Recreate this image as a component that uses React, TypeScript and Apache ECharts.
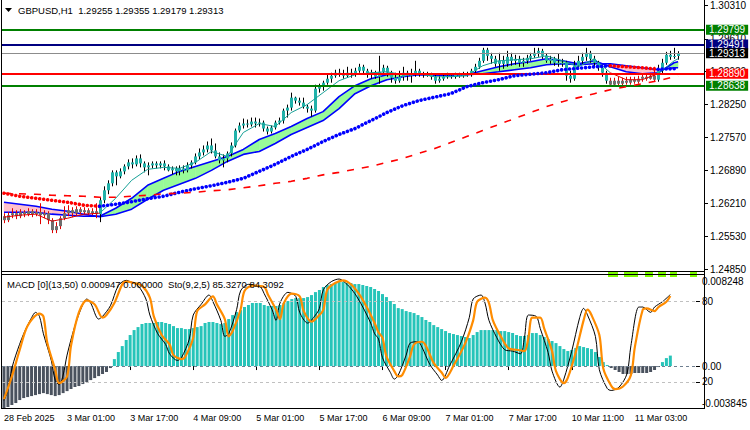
import React, { useEffect, useRef } from "react";
import * as echarts from "echarts";

// ---------------- data ----------------
const SYMBOL = "GBPUSD,H1";
const CATEGORY_COUNT = 176; // 170 bars + empty right shift
const X_TICK_STEP = 16;
const xTickLabels = ["28 Feb 2025", "3 Mar 01:00", "3 Mar 17:00", "4 Mar 09:00", "5 Mar 01:00", "5 Mar 17:00", "6 Mar 09:00", "7 Mar 01:00", "7 Mar 17:00", "10 Mar 11:00", "11 Mar 03:00"];

const open = [
  1.25942,1.25860,1.25963,1.26004,1.25942,1.26025,1.25984,1.26045,1.25984,1.26025,
  1.25963,1.26004,1.25860,1.25654,1.25736,1.25901,1.26004,1.26066,1.26004,1.26087,
  1.26025,1.26066,1.26004,1.26045,1.25984,1.26272,1.26478,1.26622,1.26849,1.26766,
  1.26869,1.26972,1.27055,1.27014,1.27137,1.27034,1.26952,1.26993,1.27034,1.26993,
  1.27034,1.26972,1.26890,1.26931,1.26869,1.26931,1.26890,1.26993,1.27055,1.27178,
  1.27261,1.27323,1.27405,1.27302,1.27178,1.27096,1.27137,1.27240,1.27405,1.27714,
  1.27817,1.27858,1.27838,1.27899,1.27858,1.27879,1.27755,1.27693,1.27776,1.27879,
  1.27920,1.28126,1.28188,1.28394,1.28332,1.28291,1.28208,1.28167,1.28126,1.28579,
  1.28620,1.28703,1.28785,1.28847,1.28909,1.28888,1.28847,1.28909,1.28868,1.28950,
  1.29032,1.28950,1.28868,1.28909,1.28826,1.28929,1.29012,1.28909,1.28806,1.28744,
  1.28826,1.28909,1.28847,1.28888,1.28950,1.28888,1.28868,1.28888,1.28826,1.28744,
  1.28785,1.28826,1.28847,1.28826,1.28868,1.28847,1.28888,1.28868,1.28950,1.29032,
  1.29156,1.29383,1.29259,1.29197,1.29094,1.29156,1.29094,1.29238,1.29156,1.29197,
  1.29115,1.29156,1.29218,1.29259,1.29321,1.29362,1.29259,1.29156,1.29197,1.29115,
  1.29094,1.29115,1.28847,1.28785,1.29053,1.29156,1.29238,1.29321,1.29197,1.29115,
  1.29012,1.28909,1.28744,1.28662,1.28744,1.28682,1.28744,1.28703,1.28765,1.28723,
  1.28785,1.28826,1.28785,1.28847,1.28765,1.28950,1.29115,1.29280,1.29238,1.29255,
];
const close = [
  1.25860,1.25963,1.26004,1.25942,1.26025,1.25984,1.26045,1.25984,1.26025,1.25963,
  1.26004,1.25860,1.25654,1.25736,1.25901,1.26004,1.26066,1.26004,1.26087,1.26025,
  1.26066,1.26004,1.26045,1.25984,1.26272,1.26478,1.26622,1.26849,1.26766,1.26869,
  1.26972,1.27055,1.27014,1.27137,1.27034,1.26952,1.26993,1.27034,1.26993,1.27034,
  1.26972,1.26890,1.26931,1.26869,1.26931,1.26890,1.26993,1.27055,1.27178,1.27261,
  1.27323,1.27405,1.27302,1.27178,1.27096,1.27137,1.27240,1.27405,1.27714,1.27817,
  1.27858,1.27838,1.27899,1.27858,1.27879,1.27755,1.27693,1.27776,1.27879,1.27920,
  1.28126,1.28188,1.28394,1.28332,1.28291,1.28208,1.28167,1.28126,1.28579,1.28620,
  1.28703,1.28785,1.28847,1.28909,1.28888,1.28847,1.28909,1.28868,1.28950,1.29032,
  1.28950,1.28868,1.28909,1.28826,1.28929,1.29012,1.28909,1.28806,1.28744,1.28826,
  1.28909,1.28847,1.28888,1.28950,1.28888,1.28868,1.28888,1.28826,1.28744,1.28785,
  1.28826,1.28847,1.28826,1.28868,1.28847,1.28888,1.28868,1.28950,1.29032,1.29156,
  1.29383,1.29259,1.29197,1.29094,1.29156,1.29094,1.29238,1.29156,1.29197,1.29115,
  1.29156,1.29218,1.29259,1.29321,1.29362,1.29259,1.29156,1.29197,1.29115,1.29094,
  1.29115,1.28847,1.28785,1.29053,1.29156,1.29238,1.29321,1.29197,1.29115,1.29012,
  1.28909,1.28744,1.28662,1.28744,1.28682,1.28744,1.28703,1.28765,1.28723,1.28785,
  1.28826,1.28785,1.28847,1.28765,1.28950,1.29115,1.29280,1.29238,1.29255,1.29313,
];
const high = [
  1.26004,1.26025,1.26107,1.26066,1.26087,1.26066,1.26107,1.26087,1.26087,1.26210,
  1.26066,1.26045,1.25901,1.25819,1.25942,1.26148,1.26169,1.26128,1.26148,1.26128,
  1.26128,1.26107,1.26107,1.26210,1.26334,1.26560,1.26684,1.26890,1.26890,1.26931,
  1.27014,1.27117,1.27137,1.27199,1.27220,1.27075,1.27055,1.27075,1.27075,1.27075,
  1.27096,1.27014,1.26972,1.26972,1.26993,1.26993,1.27055,1.27096,1.27240,1.27343,
  1.27405,1.27487,1.27549,1.27446,1.27261,1.27220,1.27281,1.27467,1.27755,1.27879,
  1.27961,1.27941,1.27982,1.27982,1.27961,1.27920,1.27796,1.27817,1.27920,1.27982,
  1.28167,1.28250,1.28497,1.28414,1.28394,1.28394,1.28250,1.28229,1.28662,1.28682,
  1.28744,1.28888,1.28909,1.28971,1.28991,1.28971,1.29032,1.28991,1.29012,1.29094,
  1.29074,1.28991,1.28971,1.28950,1.29259,1.29074,1.29053,1.28950,1.28909,1.28950,
  1.29032,1.28950,1.28991,1.29156,1.28991,1.28929,1.28929,1.28909,1.28868,1.28847,
  1.28868,1.28909,1.28888,1.28909,1.28909,1.28929,1.28929,1.28991,1.29094,1.29218,
  1.29424,1.29424,1.29321,1.29259,1.29321,1.29259,1.29362,1.29321,1.29280,1.29259,
  1.29218,1.29280,1.29321,1.29424,1.29424,1.29403,1.29300,1.29259,1.29238,1.29300,
  1.29197,1.29156,1.28950,1.29156,1.29259,1.29321,1.29424,1.29362,1.29259,1.29156,
  1.29074,1.28950,1.28806,1.28806,1.28826,1.28806,1.28826,1.28826,1.28826,1.28847,
  1.28888,1.28888,1.28909,1.29032,1.29074,1.29197,1.29341,1.29362,1.29424,1.29355,
];
const low = [
  1.25798,1.25819,1.25901,1.25881,1.25901,1.25922,1.25942,1.25922,1.25942,1.25778,
  1.25901,1.25778,1.25592,1.25592,1.25675,1.25860,1.25942,1.25922,1.25963,1.25984,
  1.25984,1.25963,1.25963,1.25901,1.25819,1.26210,1.26396,1.26560,1.26581,1.26725,
  1.26808,1.26911,1.26931,1.26972,1.26952,1.26849,1.26787,1.26931,1.26931,1.26931,
  1.26890,1.26869,1.26808,1.26787,1.26787,1.26828,1.26849,1.26931,1.27014,1.27117,
  1.27199,1.27261,1.27240,1.27137,1.27034,1.26952,1.27055,1.27178,1.27364,1.27673,
  1.27755,1.27776,1.27796,1.27776,1.27796,1.27693,1.27632,1.27652,1.27735,1.27838,
  1.27858,1.27982,1.28126,1.28270,1.28229,1.28167,1.28085,1.28002,1.28085,1.28497,
  1.28538,1.28662,1.28703,1.28806,1.28826,1.28785,1.28806,1.28806,1.28826,1.28909,
  1.28888,1.28806,1.28785,1.28785,1.28682,1.28888,1.28826,1.28703,1.28682,1.28703,
  1.28744,1.28744,1.28703,1.28826,1.28826,1.28806,1.28826,1.28765,1.28682,1.28703,
  1.28744,1.28785,1.28785,1.28785,1.28806,1.28806,1.28826,1.28826,1.28909,1.28991,
  1.29115,1.29156,1.29094,1.29032,1.28950,1.28991,1.29032,1.29053,1.29074,1.29032,
  1.29032,1.29094,1.29156,1.29218,1.29238,1.29197,1.29115,1.29094,1.29053,1.29032,
  1.29032,1.28744,1.28703,1.28744,1.29012,1.29094,1.29156,1.29115,1.29032,1.28950,
  1.28826,1.28682,1.28620,1.28620,1.28620,1.28641,1.28662,1.28662,1.28682,1.28682,
  1.28723,1.28744,1.28765,1.28723,1.28723,1.28888,1.29074,1.29177,1.29197,1.29179,
];

// indicator readings (taken at these bar indices)
const sampleIdx = [0,4,8,12,16,20,24,28,32,36,40,44,48,52,56,60,64,68,72,76,80,84,88,92,96,100,104,108,112,116,120,124,128,132,136,140,144,148,152,156,160,164,168,169];
const fastLine = [1.25922,1.25963,1.25984,1.25839,1.25901,1.25984,1.26004,1.26313,1.26684,1.26911,1.26952,1.26931,1.27055,1.27281,1.27178,1.27673,1.27858,1.27796,1.28085,1.28250,1.28497,1.28744,1.28868,1.28909,1.28929,1.28868,1.28888,1.28826,1.28826,1.28847,1.29053,1.29156,1.29177,1.29197,1.29259,1.29156,1.29032,1.29197,1.28909,1.28765,1.28765,1.28888,1.29156,1.29197];
const bandFast = [1.26025,1.26025,1.26025,1.25984,1.25963,1.25942,1.25942,1.26107,1.26313,1.26581,1.26725,1.26869,1.26972,1.27075,1.27178,1.27323,1.27529,1.27652,1.27796,1.27961,1.28105,1.28414,1.28641,1.28785,1.28868,1.28888,1.28888,1.28868,1.28847,1.28868,1.28950,1.29032,1.29094,1.29135,1.29197,1.29156,1.29094,1.29156,1.29032,1.28929,1.28888,1.28909,1.29115,1.29135];
const bandSlow = [1.26231,1.26190,1.26148,1.26087,1.26045,1.25984,1.25932,1.25984,1.26087,1.26293,1.26478,1.26602,1.26725,1.26890,1.27075,1.27220,1.27281,1.27446,1.27632,1.27776,1.27920,1.28167,1.28476,1.28641,1.28765,1.28826,1.28868,1.28857,1.28857,1.28868,1.28888,1.28929,1.28971,1.29012,1.29074,1.29094,1.29074,1.29094,1.29094,1.29053,1.29012,1.28971,1.29012,1.29012];
const dottedMA = [1.26416,1.26354,1.26313,1.26272,1.26231,1.26169,1.26148,1.26190,1.26241,1.26303,1.26354,1.26437,1.26509,1.26571,1.26643,1.26725,1.26869,1.27014,1.27178,1.27323,1.27487,1.27632,1.27755,1.27920,1.28085,1.28229,1.28332,1.28404,1.28476,1.28620,1.28703,1.28765,1.28847,1.28878,1.28909,1.28971,1.29002,1.29032,1.29053,1.29032,1.29012,1.28981,1.28991,1.28995];
const dashedMA = [1.26416,1.26406,1.26396,1.26375,1.26365,1.26354,1.26334,1.26334,1.26354,1.26375,1.26406,1.26416,1.26437,1.26468,1.26488,1.26529,1.26571,1.26622,1.26663,1.26725,1.26797,1.26849,1.26911,1.26972,1.27055,1.27137,1.27240,1.27343,1.27467,1.27590,1.27714,1.27838,1.27961,1.28085,1.28208,1.28311,1.28394,1.28476,1.28559,1.28620,1.28682,1.28744,1.28826,1.28837];

const priceTicks = [1.30310, 1.29610, 1.28930, 1.28250, 1.27570, 1.26890, 1.26210, 1.25530, 1.24850];
const levelPrices = [1.29799, 1.29491, 1.29313, 1.28890, 1.28638];

const macdHist = [
  -0.00381,-0.00371,-0.00353,-0.00335,-0.00308,-0.00290,-0.00281,-0.00272,-0.00263,-0.00254,
  -0.00245,-0.00254,-0.00263,-0.00272,-0.00263,-0.00245,-0.00227,-0.00208,-0.00190,-0.00181,
  -0.00163,-0.00145,-0.00127,-0.00109,-0.00091,-0.00072,-0.00054,-0.00018,0.00063,0.00127,
  0.00181,0.00236,0.00281,0.00326,0.00353,0.00381,0.00390,0.00390,0.00390,0.00399,
  0.00399,0.00390,0.00381,0.00362,0.00344,0.00344,0.00335,0.00335,0.00344,0.00353,
  0.00362,0.00390,0.00399,0.00399,0.00390,0.00381,0.00390,0.00426,0.00462,0.00489,
  0.00507,0.00535,0.00553,0.00571,0.00571,0.00571,0.00553,0.00544,0.00544,0.00544,
  0.00553,0.00571,0.00589,0.00607,0.00616,0.00616,0.00616,0.00625,0.00643,0.00670,
  0.00689,0.00716,0.00734,0.00743,0.00752,0.00761,0.00761,0.00752,0.00752,0.00743,
  0.00743,0.00734,0.00725,0.00716,0.00698,0.00680,0.00652,0.00625,0.00589,0.00562,
  0.00525,0.00516,0.00498,0.00489,0.00480,0.00462,0.00444,0.00417,0.00399,0.00371,
  0.00353,0.00335,0.00317,0.00299,0.00290,0.00281,0.00272,0.00263,0.00254,0.00281,
  0.00308,0.00326,0.00326,0.00326,0.00326,0.00326,0.00317,0.00317,0.00308,0.00299,
  0.00281,0.00272,0.00272,0.00281,0.00299,0.00299,0.00281,0.00263,0.00245,0.00227,
  0.00208,0.00181,0.00154,0.00136,0.00145,0.00163,0.00181,0.00172,0.00163,0.00154,
  0.00127,0.00082,0.00036,0.00009,-0.00018,-0.00036,-0.00054,-0.00072,-0.00072,-0.00072,
  -0.00063,-0.00063,-0.00063,-0.00063,-0.00054,-0.00036,-0.00009,0.00036,0.00072,0.000947,
];
const macdSignalValue = 0.0;
const macdRange = [-0.003845, 0.008248];

const stochMain: [number, number][] = [[0,6],[1,14],[2,30],[3,40],[5,56],[7,68],[8,72],[9,69],[10,56],[12,36],[13,21],[14,18],[15,25],[16,40],[18,62],[20,78],[21,82],[22,79],[24,67],[25,69],[27,77],[29,92],[31,96],[32,95],[34,92],[36,82],[37,70],[39,56],[41,48],[42,41],[44,36],[45,38],[47,52],[48,70],[50,78],[52,85],[53,80],[55,66],[56,54],[57,56],[59,74],[60,88],[62,93],[65,91],[66,86],[68,74],[69,66],[70,79],[72,87],[74,84],[75,72],[77,64],[79,70],[80,75],[81,89],[83,95],[85,97],[87,93],[89,86],[91,76],[93,64],[94,56],[95,52],[96,38],[98,27],[99,22],[100,25],[102,40],[103,49],[105,50],[106,46],[108,33],[110,25],[111,21],[113,32],[116,50],[118,68],[119,82],[121,85],[122,79],[123,66],[125,53],[127,44],[129,43],[131,41],[132,53],[133,70],[135,69],[136,60],[138,42],[139,28],[141,16],[142,22],[144,43],[146,68],[147,75],[148,70],[150,54],[151,29],[153,15],[154,13.5],[156,16],[158,26],[159,47],[161,76],[162,76],[164,72],[165,76],[167,80],[169,85.327]];
const stochSignal: [number, number][] = [[0,7],[2,24],[4,44],[6,62],[9,71],[10,69],[11,49],[13,29],[14,19],[16,24],[17,47],[19,72],[21,81],[23,78],[25,68],[26,70],[28,79],[30,93],[31,95],[33,94],[35,92],[37,83],[38,69],[40,55],[42,48],[43,40],[45,37],[46,39],[48,53],[49,73],[51,78],[53,84],[54,78],[56,67],[57,54],[58,58],[60,74],[61,88],[63,92],[66,91],[67,85],[69,74],[70,67],[71,79],[73,86],[75,84],[76,73],[78,65],[80,70],[81,74],[82,89],[84,94],[86,96],[88,93],[90,86],[92,76],[94,64],[95,57],[96,53],[97,39],[99,28],[100,24],[101,25],[103,39],[104,48],[106,50],[107,47],[109,34],[111,27],[112,23],[114,32],[117,49],[119,66],[120,80],[122,83],[123,79],[124,66],[126,54],[128,45],[130,44],[132,43],[133,53],[134,68],[136,68],[137,60],[139,43],[140,28],[142,19],[143,23],[145,42],[147,66],[148,74],[149,70],[151,55],[152,30],[154,17],[155,14.5],[157,16.5],[159,25],[160,46],[162,74],[163,75],[165,73],[166,76],[168,80],[169,84.3092]];
const stochLevels = [80, 20];

// ---------------- styles ----------------
const FONT = "'Liberation Sans', Arial, sans-serif";
const TEAL_BODY = "#20B2AA";
const GRAY_BODY = "#6E6E6E";
const HIST_UP = "#26C4B9";
const HIST_DN = "#4A525E";
const levelStyles = [
  { line: "#008000", bg: "#008000", w: 2 },
  { line: "#000080", bg: "#000080", w: 2 },
  { line: "#8C8C8C", bg: "#000000", w: 1 },
  { line: "#FF0000", bg: "#FF0000", w: 2 },
  { line: "#008000", bg: "#008000", w: 2 },
];

function buildOption(): any {
  const cats = Array.from({ length: CATEGORY_COUNT }, (_, i) => String(i));
  const nSeg = sampleIdx.length - 1;
  const segUp = Array.from({ length: nSeg }, (_, k) => dottedMA[k + 1] >= dottedMA[k]);
  const runs: { up: boolean; from: number; to: number }[] = [];
  let start = 0;
  for (let k = 1; k <= nSeg; k++) {
    if (k === nSeg || segUp[k] !== segUp[start]) {
      runs.push({ up: segUp[start], from: start, to: k });
      start = k;
    }
  }
  const barUp = (j: number) => {
    for (let k = 0; k < nSeg; k++) if (j >= sampleIdx[k] && j < sampleIdx[k + 1]) return segUp[k];
    return segUp[nSeg - 1];
  };
  const runData = (arr: number[], r: { from: number; to: number }) =>
    sampleIdx.slice(r.from, r.to + 1).map((s, m) => [s, arr[r.from + m]]);

  const candleData = open.map((o, i) => [i, o, close[i], low[i], high[i], barUp(i) ? 1 : 0]);
  const bandData = Array.from({ length: nSeg }, (_, k) => [
    sampleIdx[k], bandFast[k], bandSlow[k], sampleIdx[k + 1], bandFast[k + 1], bandSlow[k + 1],
  ]);

  const tickFn = (i: number) => i % X_TICK_STEP === 0 && i / X_TICK_STEP < xTickLabels.length;
  const last = open.length - 1;

  const series: any[] = [];

  // band fill
  series.push({
    type: "custom", xAxisIndex: 0, yAxisIndex: 0, z: 1, silent: true,
    data: bandData, encode: { x: [0, 3], y: [1, 2, 4, 5] },
    renderItem: (_p: any, api: any) => {
      const i0 = api.value(0), f0 = api.value(1), s0 = api.value(2);
      const i1 = api.value(3), f1 = api.value(4), s1 = api.value(5);
      const A0 = api.coord([i0, f0]), B0 = api.coord([i0, s0]);
      const A1 = api.coord([i1, f1]), B1 = api.coord([i1, s1]);
      const d0 = f0 - s0, d1 = f1 - s1;
      const col = (d: number) => (d >= 0 ? "#98FB98" : "#FFC0CB");
      const poly = (pts: number[][], c: string) => ({ type: "polygon", shape: { points: pts }, style: { fill: c, stroke: c, lineWidth: 0.5 } });
      if (d0 * d1 >= 0) return poly([A0, A1, B1, B0], col(d0 + d1));
      const t = d0 / (d0 - d1);
      const X = [A0[0] + t * (A1[0] - A0[0]), A0[1] + t * (A1[1] - A0[1])];
      return { type: "group", children: [poly([A0, X, B0], col(d0)), poly([X, A1, B1], col(d1))] };
    },
  });
  // band lines
  [bandFast, bandSlow].forEach((arr) => {
    series.push({
      type: "line", xAxisIndex: 0, yAxisIndex: 0, z: 2, silent: true, symbol: "none",
      data: sampleIdx.map((s, k) => [s, arr[k]]),
      lineStyle: { color: "#0000FF", width: 1.6 },
    });
  });
  // candles
  series.push({
    type: "custom", xAxisIndex: 0, yAxisIndex: 0, z: 3, silent: true,
    data: candleData, encode: { x: 0, y: [1, 2, 3, 4] },
    renderItem: (_p: any, api: any) => {
      const i = api.value(0);
      const po = api.coord([i, api.value(1)]);
      const pc = api.coord([i, api.value(2)]);
      const pl = api.coord([i, api.value(3)]);
      const ph = api.coord([i, api.value(4)]);
      const up = api.value(5) === 1;
      const x = Math.round(po[0]);
      const top = Math.min(po[1], pc[1]);
      const bot = Math.max(po[1], pc[1]);
      return {
        type: "group",
        children: [
          { type: "line", shape: { x1: x + 0.5, y1: ph[1], x2: x + 0.5, y2: pl[1] }, style: { stroke: up ? "#000000" : "#E00000", lineWidth: 1 } },
          { type: "rect", shape: { x: x - 1, y: top, width: 3, height: Math.max(1, bot - top) }, style: { fill: up ? TEAL_BODY : GRAY_BODY } },
        ],
      };
    },
  });
  // thin fast line
  runs.forEach((r) => {
    series.push({
      type: "line", xAxisIndex: 0, yAxisIndex: 0, z: 4, silent: true, symbol: "none",
      data: runData(fastLine, r), lineStyle: { color: r.up ? "#16A096" : "#E00000", width: 1 },
    });
  });
  // dotted MA
  runs.forEach((r) => {
    series.push({
      type: "line", xAxisIndex: 0, yAxisIndex: 0, z: 5, silent: true, symbol: "none",
      data: runData(dottedMA, r),
      lineStyle: { color: r.up ? "#0000FF" : "#FF0000", width: 3.6, type: [0.01, 4], cap: "round" },
    });
  });
  // dashed MA + level lines
  series.push({
    type: "line", xAxisIndex: 0, yAxisIndex: 0, z: 10, silent: true, symbol: "none",
    data: sampleIdx.map((s, k) => [s, dashedMA[k]]),
    lineStyle: { color: "#FF0000", width: 1.6, type: [7, 8] },
    markLine: {
      silent: true, symbol: ["none", "none"], animation: false, precision: 5,
      data: levelPrices.map((p, k) => ({
        yAxis: p,
        lineStyle: { color: levelStyles[k].line, width: levelStyles[k].w, type: "solid" },
        label: {
          show: true, position: "end", formatter: p.toFixed(5), distance: 2,
          backgroundColor: levelStyles[k].bg, color: "#FFFFFF", fontSize: 10, fontFamily: FONT,
          padding: [0, 3, 0, 3], lineHeight: 10,
        },
      })),
    },
  });
  // MACD histogram
  series.push({
    type: "bar", xAxisIndex: 1, yAxisIndex: 1, z: 2, silent: true, barWidth: 3,
    data: macdHist.map((v) => ({ value: v, itemStyle: { color: v >= 0 ? HIST_UP : HIST_DN } })),
    markLine: {
      silent: true, symbol: ["none", "none"], animation: false, precision: 6, label: { show: false },
      data: [{ yAxis: 0 }], lineStyle: { color: "#6F7F90", type: [3, 3], width: 1 },
    },
  });
  // stochastic
  series.push({
    type: "line", xAxisIndex: 1, yAxisIndex: 2, z: 4, silent: true, symbol: "none", smooth: 0.3,
    data: stochMain, lineStyle: { color: "#000000", width: 1 },
    markLine: {
      silent: true, symbol: ["none", "none"], animation: false, precision: 2, label: { show: false },
      data: stochLevels.map((v) => ({ yAxis: v })), lineStyle: { color: "#C0C0C0", type: [3, 3], width: 1 },
    },
  });
  series.push({
    type: "line", xAxisIndex: 1, yAxisIndex: 2, z: 5, silent: true, symbol: "none", smooth: 0.3,
    data: stochSignal, lineStyle: { color: "#FF8C00", width: 2.2 },
  });

  const headerText = `${SYMBOL}  ${open[last].toFixed(5)} ${high[last].toFixed(5)} ${low[last].toFixed(5)} ${close[last].toFixed(5)}`;
  const subText = `MACD [0](13,50) ${macdHist[macdHist.length - 1].toFixed(6)} ${macdSignalValue.toFixed(6)}  Sto(9,2,5) ${stochMain[stochMain.length - 1][1].toFixed(4)} ${stochSignal[stochSignal.length - 1][1].toFixed(4)}`;

  const frame = (x1: number, y1: number, x2: number, y2: number) => ({
    type: "line", z: 50, silent: true, shape: { x1, y1, x2, y2 }, style: { stroke: "#000000", lineWidth: 1 },
  });
  const lime = (x: number, w: number) => ({ type: "rect", z: 40, silent: true, shape: { x, y: 271, width: w, height: 6 }, style: { fill: "#7CFC00" } });

  const macdLabelTop = 0.00768;
  const macdLabelBottom = -0.00335;

  return {
    animation: false,
    backgroundColor: "#FFFFFF",
    textStyle: { fontFamily: FONT },
    grid: [
      { left: 2, top: 4, width: 702, height: 265 },
      { left: 2, top: 275, width: 702, height: 133.5 },
    ],
    xAxis: [
      { type: "category", gridIndex: 0, data: cats, boundaryGap: true, show: false },
      {
        type: "category", gridIndex: 1, data: cats, boundaryGap: true,
        axisLine: { show: false },
        axisTick: { show: true, alignWithLabel: true, interval: tickFn, length: 4, lineStyle: { color: "#000000" } },
        axisLabel: {
          show: true, interval: tickFn, align: "left", margin: 5, fontSize: 9, color: "#000000", fontFamily: FONT,
          formatter: (_v: string, i: number) => xTickLabels[i / X_TICK_STEP] ?? "",
        },
        splitLine: { show: false },
      },
    ],
    yAxis: [
      {
        type: "value", gridIndex: 0, position: "right", min: priceTicks[priceTicks.length - 1], max: priceTicks[0],
        axisLine: { show: false }, splitLine: { show: false },
        axisTick: { show: true, length: 4, customValues: priceTicks, lineStyle: { color: "#000000" } },
        axisLabel: { customValues: priceTicks, formatter: (v: number) => v.toFixed(5), margin: 6, fontSize: 10, color: "#000000", fontFamily: FONT },
      },
      {
        type: "value", gridIndex: 1, position: "right", min: macdRange[0], max: macdRange[1],
        axisLine: { show: false }, splitLine: { show: false },
        axisTick: { show: true, length: 4, customValues: [0], lineStyle: { color: "#000000" } },
        axisLabel: {
          customValues: [macdLabelTop, 0, macdLabelBottom], margin: 6, fontSize: 10, color: "#000000", fontFamily: FONT,
          formatter: (v: number) => (v > 0.001 ? macdRange[1].toFixed(6) : v < -0.001 ? macdRange[0].toFixed(6) : "0.00"),
        },
      },
      {
        type: "value", gridIndex: 1, position: "right", min: 0, max: 100,
        axisLine: { show: false }, splitLine: { show: false },
        axisTick: { show: true, length: 4, customValues: stochLevels, lineStyle: { color: "#000000" } },
        axisLabel: { customValues: stochLevels, margin: 6, fontSize: 10, color: "#000000", fontFamily: FONT },
      },
    ],
    series,
    graphic: [
      frame(1.5, 0, 1.5, 409),
      frame(704.5, 0, 704.5, 409),
      frame(1, 271.5, 705, 271.5),
      frame(1, 274.5, 705, 274.5),
      frame(1, 408.5, 705, 408.5),
      lime(608, 10), lime(624, 14), lime(645, 8), lime(658, 8), lime(670, 7), lime(690, 7),
      { type: "polygon", z: 60, silent: true, shape: { points: [[5, 8], [12, 8], [8.5, 12]] }, style: { fill: "#000000" } },
      { type: "text", z: 60, silent: true, x: 18, y: 10, style: { text: headerText, fill: "#000000", font: `9.5px ${FONT}`, verticalAlign: "middle" } },
      { type: "text", z: 60, silent: true, x: 7, y: 284, style: { text: subText, fill: "#000000", font: `9.5px ${FONT}`, verticalAlign: "middle" } },
    ],
  };
}

export default function App() {
  const ref = useRef<HTMLDivElement>(null);
  useEffect(() => {
    if (!ref.current) return;
    const chart = echarts.init(ref.current, undefined, { renderer: "svg" });
    chart.setOption(buildOption());
    return () => chart.dispose();
  }, []);
  return (
    <div
      ref={ref}
      style={{ position: "fixed", left: 0, top: 0, width: 750, height: 430, background: "#FFFFFF" }}
    />
  );
}
